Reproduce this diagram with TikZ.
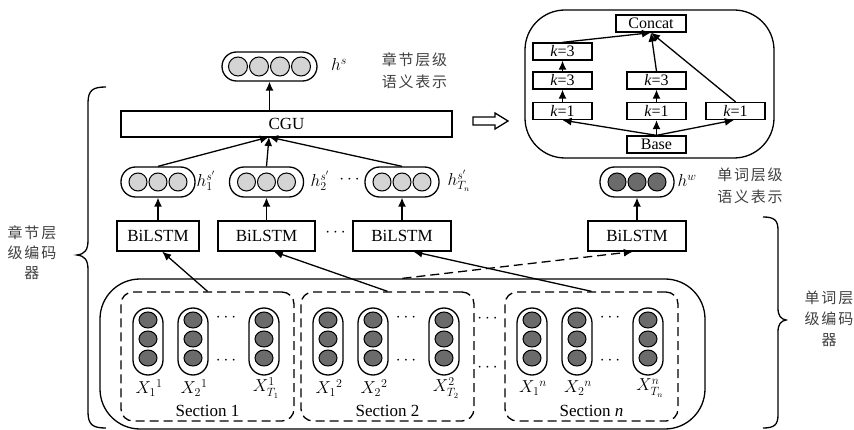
\documentclass[tikz,border=0pt]{standalone}
\usepackage{amsmath}
\usepackage{fontspec}
\setmainfont{Liberation Serif}
\newfontfamily\cjk[LetterSpace=12]{Noto Sans CJK SC}
\usetikzlibrary{%
	arrows.meta,%
	calc,%
	shapes.geometric,%
	positioning%
}
\definecolor{cellgray}{HTML}{D4D4D4}
\definecolor{darkcell}{HTML}{6B6B6B}
\definecolor{cjkgray}{HTML}{404040}

\begin{document}
\begin{tikzpicture}[x=1pt,y=-1pt,>={Latex[length=9pt,width=8pt]},line width=1.3pt,
	font=\fontsize{17}{19}\selectfont,
	lstm/.style={draw,minimum width=98pt,minimum height=30pt,inner sep=0pt},
	kbox/.style={draw,minimum width=59pt,minimum height=17pt,inner sep=0pt,font=\fontsize{16}{17}\selectfont},
	vecbox/.style={draw,rounded corners=14.5pt,minimum width=74pt,minimum height=30pt,inner sep=0pt},
	wordvec/.style={draw,rounded corners=15pt,minimum width=30pt,minimum height=67pt,inner sep=0pt},
	cell/.style={draw,circle,fill=cellgray,minimum size=18pt,inner sep=0pt,line width=1pt},
	wcell/.style={draw,ellipse,fill=darkcell,minimum width=18pt,minimum height=16pt,inner sep=0pt,line width=1pt},
	secbox/.style={draw,dash pattern=on 9pt off 5pt,rounded corners=12pt,minimum width=173pt,minimum height=129pt,inner sep=0pt},
	dotsnode/.style={font=\fontsize{16}{16}\selectfont,inner sep=0pt},
	cjktext/.style={font=\cjk\fontsize{15}{22}\selectfont,text=cjkgray,align=center,inner sep=0pt}
	]
	\useasboundingbox (0,0) rectangle (854,430);

	% Word level encoder
	\node[draw,rounded corners=40pt,minimum width=605pt,minimum height=150pt] (wenc) at (402.5,354) {};
	\foreach \i/\sx/\ss/\name in {1/121/1/{Section 1},2/301/2/{Section 2},n/505/n/{Section \textit{n}}} {
		\node[secbox] (sec\i) at (\sx+86.5,356.5) {};
		\node (sl\i) at (\sx+86.5,411) {\name};
		\foreach \c/\dx in {1/27,2/72,3/143} {
			\node[wordvec] (w\i\c) at (\sx+\dx,341.5) {};
			\foreach \k in {320,339,358}
				\node[wcell] at (\sx+\dx,\k) {};
		}
		\node (x\i1) at (\sx+28,388) {$X_1{}^{\ss}$};
		\node (x\i2) at (\sx+73,388) {$X_2{}^{\ss}$};
		\node (x\i3) at (\sx+145,388) {$X_{T_{\ss}}^{\ss}$};
		\node[dotsnode] (da\i) at (\sx+106.5,318) {$\cdots$};
		\node[dotsnode] (db\i) at (\sx+106.5,361) {$\cdots$};
	}
	\node[dotsnode] (dsa) at (489,319) {$\cdots$};
	\node[dotsnode] (dsb) at (489,368) {$\cdots$};

	% BiLSTM layer
	\node[lstm,minimum width=82pt] (b1) at (158,236) {BiLSTM};
	\node[lstm,minimum width=97pt] (b2) at (266.5,236) {BiLSTM};
	\node[lstm] (b3) at (402,236) {BiLSTM};
	\node[lstm] (b4) at (637,236) {BiLSTM};
	\node (bdots) at (337,233) {$\cdots$};

	% Section vectors
	\node[vecbox] (h1) at (158,182) {};
	\node[vecbox] (h2) at (266.5,182) {};
	\node[vecbox] (h3) at (402,182) {};
	\node[vecbox] (hw) at (637,182) {};
	\foreach \v in {h1,h2,h3} {
		\foreach \dx in {-20,0,20}
			\node[cell] at ($(\v)+(\dx,0)$) {};
	}
	\foreach \dx in {-20,0,20}
		\node[cell,fill=darkcell] at ($(hw)+(\dx,0)$) {};
	\node (lh1) at (206,181) {$h_1^{s'}$};
	\node (lh2) at (320,181) {$h_2^{s'}$};
	\node (hdots) at (351,180) {$\cdots$};
	\node (lh3) at (459,181) {$h_{T_n}^{s'}$};
	\node (lhw) at (687,181) {$h^w$};

	% CGU and output
	\node[draw,minimum width=331pt,minimum height=26pt,inner sep=0pt] (cgu) at (286.5,124) {CGU};
	\node[vecbox,minimum width=95pt,minimum height=29pt] (hs) at (269.5,66.5) {};
	\foreach \dx in {-31.5,-10.5,10.5,31.5}
		\node[cell,minimum size=19pt] at ($(hs)+(\dx,0)$) {};
	\node (lhs) at (339,65) {$h^s$};
	\coordinate (cgu in) at (269,137);

	% Texts and braces
	\node[cjktext] (tsec) at (414.5,70.5) {章节层级\\语义表示};
	\node[cjktext] (tword) at (750,186) {单词层级\\语义表示};
	\node[cjktext,font=\cjk\fontsize{15}{20}\selectfont] (tsenc) at (32,253) {章节层\\级编码\\器};
	\node[cjktext,font=\cjk\fontsize{15}{21}\selectfont] (twenc) at (829,319) {单词层\\级编码\\器};
	\draw (106,87) .. controls (93,87) and (88,90) .. (88,103) -- (88,240)
		.. controls (88,250) and (85,254) .. (77,255) .. controls (85,256) and (88,260) .. (88,270)
		-- (88,412) .. controls (88,425) and (93,428) .. (106,428);
	\draw (763,217) .. controls (774,217) and (778,220) .. (778,230) -- (778,308)
		.. controls (778,316) and (781,319) .. (786,320) .. controls (781,321) and (778,324) .. (778,332)
		-- (778,415) .. controls (778,425) and (774,428) .. (763,428);

	% Multi-scale block
	\node[draw,rounded corners=40pt,minimum width=249pt,minimum height=148pt] (attn) at (649.5,84) {};
	\node[kbox,minimum width=70pt] (concat) at (651,23.5) {Concat};
	\node[kbox] (k3b) at (562.5,51.5) {\textit{k}=3};
	\node[kbox] (k3a) at (562.5,80.5) {\textit{k}=3};
	\node[kbox] (k1a) at (562.5,111) {\textit{k}=1};
	\node[kbox] (k3c) at (656.5,80.5) {\textit{k}=3};
	\node[kbox] (k1b) at (656.5,111) {\textit{k}=1};
	\node[kbox] (k1c) at (735.5,111) {\textit{k}=1};
	\node[kbox] (base) at (656.5,144.5) {Base};
	\draw (473,117) -- (495,117) -- (495,113) -- (508,121) -- (495,129) -- (495,125) -- (473,125) -- cycle;

	% Connectors
	\draw[->] (base.north) -- (k1a.south);
	\draw[->] (base) -- (k1b);
	\draw[->] (base.north) -- (k1c.-100);
	\draw[->] (k1a) -- (k3a);
	\draw[->] (k3a) -- (k3b);
	\draw[->] (k1b) -- (k3c);
	\draw[->] (k3b.north) -- (concat.south);
	\draw[->] (k3c.north) -- (concat.south);
	\draw[->] (k1c.north) -- (concat.south);
	\draw[->] (sec1.north) -- (b1.-75);
	\draw[->] (sec2.north) -- (b2.-65);
	\draw[->] (secn.north) -- (b3.-54);
	\draw[->,dash pattern=on 9pt off 5pt] (wenc.north) -- (b4.-105);
	\foreach \b/\h in {b1/h1,b2/h2,b3/h3,b4/hw}
		\draw[->] (\b) -- (\h);
	\foreach \h in {h1,h2,h3}
		\draw[->] (\h.north) -- (cgu in);
	\draw[->] (cgu.north -| hs) -- (hs.south);
\end{tikzpicture}
\end{document}
